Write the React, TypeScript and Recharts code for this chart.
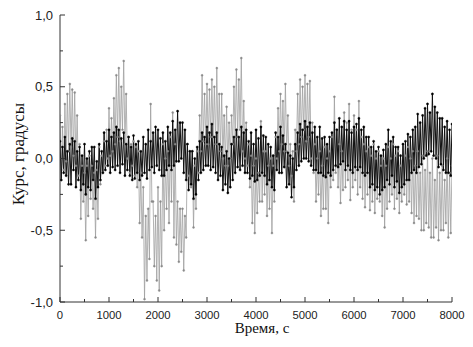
import React from "react";
import { LineChart, Line, XAxis, YAxis } from "recharts";

const STEP_S = 25;

// gray series (25 s samples)
const graySeries = [
  0.30, -0.15, 0.22, -0.08, 0.38, -0.02, 0.45, 0.05,
  0.52, 0.08, 0.48, 0.02, 0.46, -0.05, 0.30, -0.12,
  0.10, -0.42, -0.05, -0.30, -0.10, -0.57, -0.05, -0.40,
  0.02, -0.28, -0.05, -0.35, -0.10, -0.55, -0.08, -0.42,
  0.08, -0.18, 0.02, -0.10, 0.12, -0.05, 0.20, 0.00,
  0.35, 0.02, 0.28, 0.05, 0.42, 0.10, 0.58, 0.15,
  0.63, 0.12, 0.50, 0.20, 0.68, 0.10, 0.45, 0.00,
  0.15, -0.10, 0.10, -0.05, 0.12, -0.12, 0.08, -0.20,
  0.05, -0.45, -0.10, -0.55, -0.20, -0.98, -0.40, -0.85,
  -0.35, -0.70, 0.38, -0.30, -0.30, -0.75, -0.40, -0.85,
  -0.20, -0.92, -0.30, -0.75, 0.10, -0.50, 0.00, -0.35,
  0.05, -0.45, 0.15, -0.30, 0.32, -0.55, 0.10, -0.60,
  -0.30, -0.72, -0.35, -0.65, -0.35, -0.78, -0.40, -0.55,
  0.10, -0.12, 0.05, -0.20, 0.05, -0.48, -0.05, -0.35,
  0.05, -0.10, 0.30, 0.05, 0.58, 0.12, 0.45, 0.10,
  0.52, 0.10, 0.48, 0.15, 0.55, 0.15, 0.50, 0.10,
  0.63, 0.10, 0.45, 0.05, 0.45, 0.00, 0.30, -0.05,
  0.36, -0.05, 0.25, 0.00, 0.30, 0.10, 0.50, 0.15,
  0.62, 0.15, 0.55, 0.20, 0.70, 0.05, 0.40, 0.00,
  0.25, -0.05, 0.10, -0.20, 0.02, -0.45, -0.05, -0.52,
  0.00, -0.38, -0.10, -0.30, 0.26, -0.30, 0.05, -0.25,
  0.05, -0.40, -0.05, -0.35, 0.00, -0.52, -0.05, -0.30,
  0.15, 0.00, 0.35, 0.05, 0.45, 0.10, 0.40, 0.05,
  0.52, 0.05, 0.30, -0.05, 0.10, -0.12, 0.05, -0.30,
  0.20, 0.05, 0.45, 0.10, 0.55, 0.15, 0.50, 0.20,
  0.58, 0.12, 0.52, 0.15, 0.54, 0.00, 0.25, -0.10,
  0.10, -0.30, 0.00, -0.25, 0.05, -0.40, -0.05, -0.35,
  0.08, -0.35, 0.00, -0.45, 0.05, -0.20, 0.15, -0.15,
  0.43, -0.10, 0.20, -0.20, 0.10, -0.31, 0.05, -0.22,
  0.32, -0.20, 0.25, -0.15, 0.38, -0.29, 0.20, -0.20,
  0.30, -0.15, 0.20, -0.25, 0.40, -0.20, 0.15, -0.28,
  0.10, -0.34, 0.05, -0.25, 0.08, -0.36, 0.02, -0.30,
  0.10, -0.38, 0.00, -0.28, 0.05, -0.30, -0.05, -0.40,
  0.00, -0.48, -0.05, -0.35, 0.08, -0.30, 0.00, -0.25,
  0.10, -0.35, 0.02, -0.28, 0.05, -0.38, -0.05, -0.30,
  0.10, -0.25, 0.02, -0.32, 0.08, -0.30, 0.00, -0.38,
  0.05, -0.45, -0.05, -0.40, 0.05, -0.42, -0.10, -0.50,
  0.02, -0.50, -0.08, -0.45, 0.05, -0.48, -0.10, -0.55,
  0.00, -0.55, -0.15, -0.48, 0.02, -0.57, -0.10, -0.50,
  -0.05, -0.50, -0.15, -0.45, 0.00, -0.55, -0.10, -0.52,
  -0.05,
];

// black series (25 s samples)
const blackSeries = [
  0.12, -0.15, 0.08, -0.10, 0.15, -0.12, 0.05, -0.18,
  0.10, -0.18, 0.14, -0.08, 0.12, -0.20, 0.05, -0.15,
  0.08, -0.22, 0.02, -0.18, 0.10, -0.25, 0.00, -0.20,
  0.05, -0.22, 0.08, -0.15, 0.08, -0.28, -0.02, -0.20,
  0.10, -0.15, 0.05, -0.10, 0.18, -0.08, 0.12, -0.05,
  0.20, -0.10, 0.15, -0.06, 0.18, -0.08, 0.22, -0.05,
  0.20, -0.10, 0.14, -0.04, 0.18, -0.12, 0.10, -0.08,
  0.15, -0.12, 0.08, -0.15, 0.16, -0.14, 0.10, -0.10,
  0.12, -0.15, 0.05, -0.12, 0.15, -0.10, 0.10, -0.14,
  0.20, -0.08, 0.12, -0.06, 0.18, -0.10, 0.22, -0.05,
  0.20, -0.08, 0.14, -0.12, 0.18, -0.12, 0.12, -0.08,
  0.22, -0.05, 0.18, -0.08, 0.26, -0.05, 0.20, -0.02,
  0.33, -0.02, 0.25, 0.00, 0.25, -0.10, 0.20, -0.15,
  0.10, -0.22, 0.05, -0.18, 0.05, -0.28, 0.00, -0.25,
  0.08, -0.15, 0.12, -0.10, 0.18, -0.08, 0.15, -0.05,
  0.22, -0.05, 0.18, -0.08, 0.24, -0.06, 0.15, -0.10,
  0.18, -0.15, 0.10, -0.12, 0.08, -0.22, 0.02, -0.18,
  0.05, -0.24, 0.00, -0.20, 0.10, -0.15, 0.15, -0.10,
  0.20, -0.06, 0.15, -0.08, 0.22, -0.05, 0.18, -0.10,
  0.20, -0.10, 0.12, -0.14, 0.18, -0.12, 0.10, -0.16,
  0.20, -0.15, 0.14, -0.12, 0.22, -0.10, 0.16, -0.12,
  0.15, -0.18, 0.10, -0.15, 0.08, -0.20, 0.02, -0.22,
  0.18, -0.08, 0.15, -0.10, 0.22, -0.10, 0.16, -0.06,
  0.10, -0.20, 0.04, -0.18, 0.02, -0.27, 0.00, -0.20,
  0.10, -0.08, 0.18, -0.05, 0.24, -0.02, 0.20, 0.00,
  0.26, 0.00, 0.22, -0.02, 0.25, -0.05, 0.18, -0.08,
  0.22, -0.08, 0.15, -0.10, 0.22, -0.10, 0.14, -0.12,
  0.15, -0.13, 0.10, -0.10, 0.15, -0.12, 0.18, -0.08,
  0.25, -0.05, 0.20, -0.06, 0.28, -0.04, 0.22, -0.02,
  0.26, -0.08, 0.20, -0.05, 0.26, -0.08, 0.18, -0.10,
  0.22, -0.06, 0.24, -0.08, 0.28, -0.06, 0.20, -0.10,
  0.22, -0.12, 0.15, -0.10, 0.15, -0.20, 0.08, -0.18,
  0.12, -0.22, 0.05, -0.20, 0.08, -0.25, 0.02, -0.22,
  0.06, -0.20, 0.10, -0.15, 0.20, -0.18, 0.12, -0.12,
  0.15, -0.20, 0.08, -0.16, 0.08, -0.24, 0.02, -0.20,
  0.10, -0.18, 0.12, -0.15, 0.17, -0.15, 0.15, -0.10,
  0.20, -0.08, 0.22, -0.10, 0.31, -0.06, 0.25, -0.04,
  0.30, 0.00, 0.35, 0.02, 0.38, 0.03, 0.32, 0.05,
  0.45, 0.02, 0.36, 0.00, 0.32, -0.06, 0.28, -0.04,
  0.28, -0.08, 0.22, -0.10, 0.26, -0.10, 0.20, -0.12,
  0.24,
];

const xTicks = [0, 500, 1000, 1500, 2000, 2500, 3000, 3500, 4000, 4500, 5000, 5500, 6000, 6500, 7000, 7500, 8000];
const yTicks = [-1, -0.75, -0.5, -0.25, 0, 0.25, 0.5, 0.75, 1];
const xTitle = "Время, с";
const yTitle = "Курс, градусы";

const data = graySeries.map((g, i) => ({
  t: i * STEP_S,
  gray: g,
  black: blackSeries[i],
}));

const AXIS_COLOR = "#333";
const TICK_FONT = "'Liberation Sans', Arial, sans-serif";
const TITLE_FONT = "'Liberation Serif', 'Times New Roman', serif";

const XTick = (props: any) => {
  const { x, y, payload } = props;
  const v = payload.value as number;
  const major = v % 1000 === 0;
  return (
    <g>
      <line x1={x} x2={x} y1={y} y2={y - (major ? 5 : 3)} stroke={AXIS_COLOR} strokeWidth={1} />
      {major && (
        <text x={x} y={y + 17} textAnchor="middle" fontSize={11.3} fontFamily={TICK_FONT} fill="#222">
          {String(v)}
        </text>
      )}
    </g>
  );
};

const fmt = (v: number) => v.toFixed(1).replace(".", ",");

const YTick = (props: any) => {
  const { x, y, payload } = props;
  const v = payload.value as number;
  const major = Math.abs(v * 2 - Math.round(v * 2)) < 1e-9;
  return (
    <g>
      <line x1={x} x2={x + (major ? 5 : 3)} y1={y} y2={y} stroke={AXIS_COLOR} strokeWidth={1} />
      {major && (
        <text x={x - 7} y={y + 4.5} textAnchor="end" fontSize={13} fontFamily={TICK_FONT} fill="#222">
          {fmt(v)}
        </text>
      )}
    </g>
  );
};

export default function App() {
  return (
    <div style={{ position: "absolute", left: 0, top: 0, width: 473, height: 347, background: "#fff" }}>
      <LineChart
        width={473}
        height={347}
        data={data}
        margin={{ top: 15, right: 21, bottom: 0, left: 15 }}
      >
        <XAxis
          dataKey="t"
          type="number"
          domain={[0, 8000]}
          ticks={xTicks}
          interval={0}
          tickSize={0}
          tickMargin={0}
          tick={<XTick />}
          stroke={AXIS_COLOR}
          height={45}
          allowDataOverflow
        />
        <YAxis
          type="number"
          domain={[-1, 1]}
          ticks={yTicks}
          interval={0}
          tickSize={0}
          tickMargin={0}
          tick={<YTick />}
          stroke={AXIS_COLOR}
          width={45}
          allowDataOverflow
        />
        <Line
          dataKey="gray"
          stroke="#a0a0a0"
          strokeWidth={0.8}
          dot={{ r: 1, fill: "#8a8a8a", stroke: "#8a8a8a", strokeWidth: 0.4 }}
          isAnimationActive={false}
        />
        <Line
          dataKey="black"
          stroke="#111"
          strokeWidth={1}
          dot={{ r: 1.1, fill: "#000", stroke: "#000", strokeWidth: 0.4 }}
          isAnimationActive={false}
        />
      </LineChart>
      <svg width={473} height={347} style={{ position: "absolute", left: 0, top: 0, pointerEvents: "none" }}>
        <text x={262} y={333} textAnchor="middle" fontSize={15} fontFamily={TITLE_FONT} fill="#111">
          {xTitle}
        </text>
        <text
          x={24}
          y={154}
          textAnchor="middle"
          fontSize={17}
          fontFamily={TITLE_FONT}
          fill="#111"
          transform="rotate(-90 24 154)"
        >
          {yTitle}
        </text>
      </svg>
    </div>
  );
}
